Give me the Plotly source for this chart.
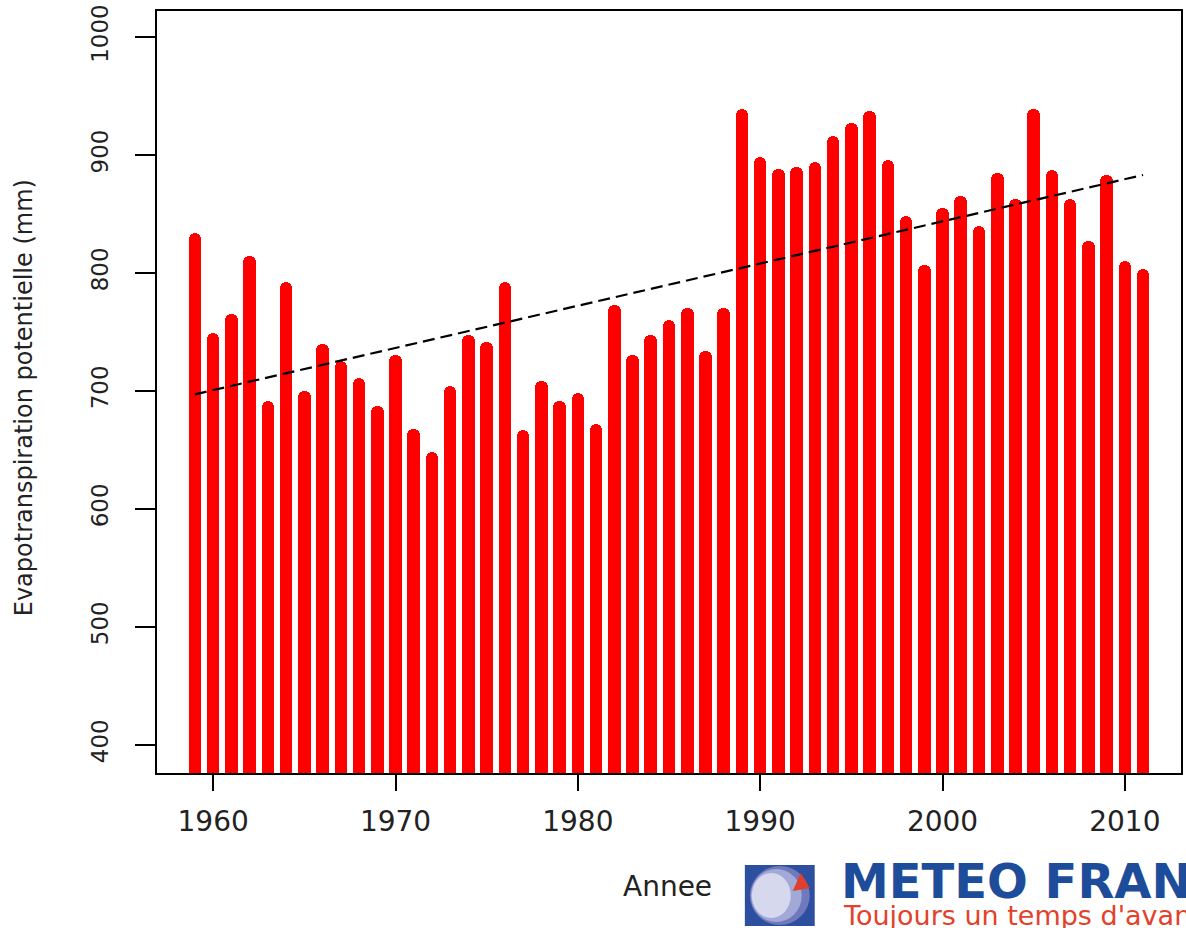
import plotly.graph_objects as go

# ---------------- data ----------------
years = list(range(1959, 2012))
etp_mm = [
    834, 749, 765, 814, 691, 792, 700, 740, 725, 711,   # 1959-1968
    687, 730, 668, 648, 704, 747, 741, 792, 667, 708,   # 1969-1978
    691, 698, 672, 773, 730, 747, 760, 770, 734, 770,   # 1979-1988
    939, 898, 888, 890, 894, 916, 927, 937, 896, 848,   # 1989-1998
    807, 855, 865, 840, 885, 863, 939, 887, 863, 827,   # 1999-2008
    883, 810, 803,                                      # 2009-2011
]
trend_years = [1959, 2011]
trend_mm = [697, 883]
x_ticks = [1960, 1970, 1980, 1990, 2000, 2010]
y_ticks = [400, 500, 600, 700, 800, 900, 1000]
x_title = "Annee"
y_title = "Evapotranspiration potentielle (mm)"
logo_title = "METEO FRANCE"
logo_slogan = "Toujours un temps d'avance"

# ---------------- geometry ----------------
W, H = 1186, 928
L, R, T, B = 157, 1183, 11, 773


def px(xp):
    return (xp - L) / (R - L)


def py(yp):
    return (B - yp) / (B - T)


fig = go.Figure()
fig.add_trace(go.Bar(
    x=years, y=etp_mm, width=0.69,
    marker=dict(color="#ff0000", line=dict(width=0), cornerradius=6),
    showlegend=False, hoverinfo="x+y",
))
fig.add_trace(go.Scatter(
    x=trend_years, y=trend_mm, mode="lines",
    line=dict(color="black", width=2.2, dash="12px,6px"),
    showlegend=False,
))

axis_common = dict(
    showline=True, linecolor="black", linewidth=2, mirror=True,
    ticks="outside", tickcolor="black", tickwidth=2,
    showgrid=False, zeroline=False,
)
fig.update_xaxes(
    range=[1956.92, 2013.08], tickvals=x_ticks, ticklen=16, ticklabelstandoff=6,
    tickfont=dict(family="DejaVu Sans", size=28, color="#222222"),
    **axis_common,
)
fig.update_yaxes(
    range=[376, 1022], tickvals=y_ticks, ticklen=20, tickangle=-90, ticklabelstandoff=18,
    tickfont=dict(family="DejaVu Sans", size=23, color="#222222"),
    **axis_common,
)

annotations = [
    dict(text=x_title, x=px(668), y=py(886), xref="paper", yref="paper",
         xanchor="center", yanchor="middle", showarrow=False,
         font=dict(family="DejaVu Sans", size=28, color="#222222")),
    dict(text=y_title, x=px(24), y=py(398), xref="paper", yref="paper",
         xanchor="center", yanchor="middle", showarrow=False, textangle=-90,
         font=dict(family="DejaVu Sans", size=24, color="#222222")),
    dict(text="<b>" + logo_title + "</b>", x=px(840), y=py(881), xref="paper", yref="paper",
         xanchor="left", yanchor="middle", showarrow=False,
         font=dict(family="DejaVu Sans", size=48, color="#1d4c9a")),
    dict(text=logo_slogan, x=px(842), y=py(915), xref="paper", yref="paper",
         xanchor="left", yanchor="middle", showarrow=False,
         font=dict(family="DejaVu Sans", size=27, color="#e4412b")),
]

shapes = [
    # logo square
    dict(type="rect", xref="paper", yref="paper", x0=px(746), x1=px(816), y0=py(926), y1=py(865),
         fillcolor="#2c4f9f", line=dict(width=0), layer="above"),
    dict(type="circle", xref="paper", yref="paper", x0=px(751), x1=px(811), y0=py(925), y1=py(866),
         fillcolor="#6f79bb", line=dict(width=0), layer="above"),
    dict(type="circle", xref="paper", yref="paper", x0=px(752), x1=px(803), y0=py(922), y1=py(869),
         fillcolor="#a3a9d6", line=dict(width=0), layer="above"),
    dict(type="circle", xref="paper", yref="paper", x0=px(753), x1=px(792), y0=py(918), y1=py(873),
         fillcolor="#d6d9ee", line=dict(width=0), layer="above"),
    dict(type="path", xref="paper", yref="paper",
         path="M {:.5f},{:.5f} L {:.5f},{:.5f} L {:.5f},{:.5f} Z".format(
             px(794), py(891), px(811), py(888), px(802), py(873)),
         fillcolor="#e0402a", line=dict(width=0), layer="above"),
]

fig.update_layout(
    width=W, height=H,
    margin=dict(l=L, r=W - R, t=T, b=H - B, pad=0),
    paper_bgcolor="white", plot_bgcolor="white",
    bargap=0, showlegend=False,
    annotations=annotations, shapes=shapes,
)

fig.write_html(
    "out.html",
    config={"displayModeBar": False},
    post_script="document.body.style.margin='0';document.body.style.overflow='hidden';",
)
